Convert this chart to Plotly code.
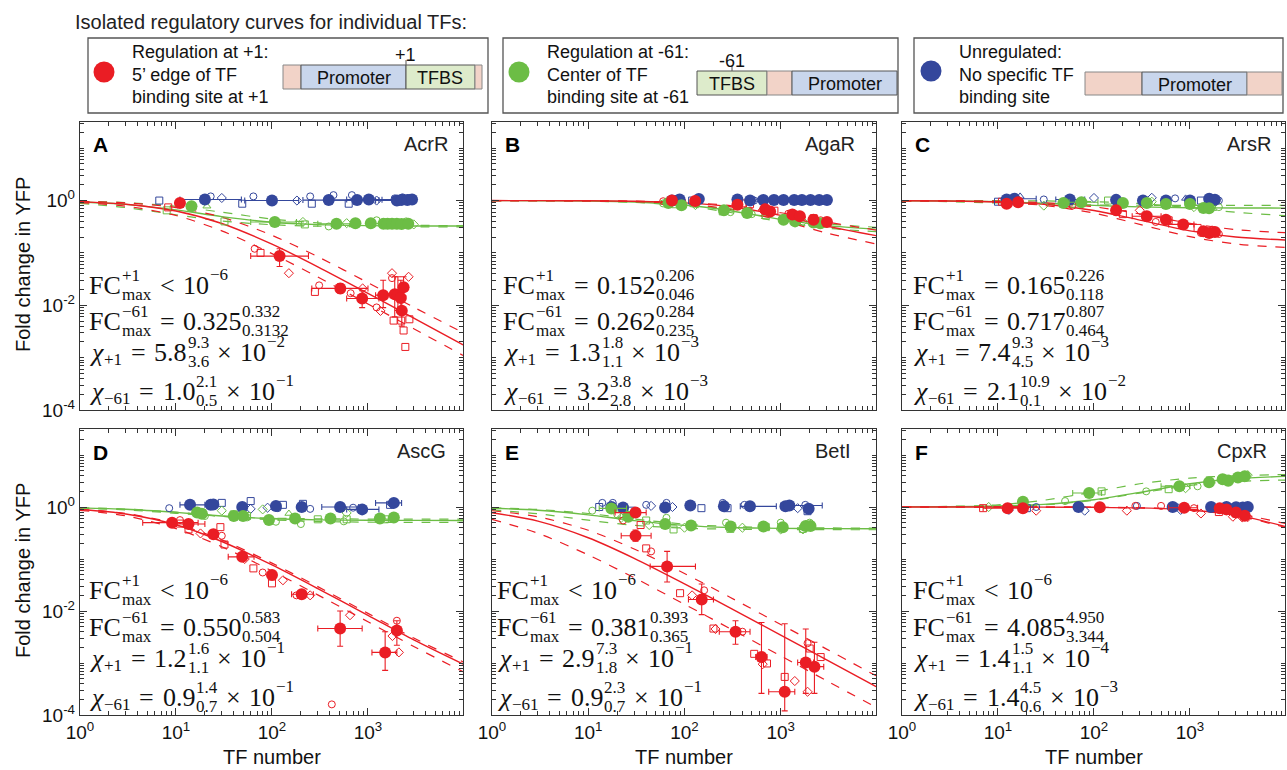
import plotly.graph_objects as go

W, H = 1287, 770
RED, GREEN, BLUE = "#EA1D24", "#6CBD45", "#34479C"
PINK, LBLUE, LGREEN = "#F2D3C8", "#C9D6EC", "#DDEBCB"
SANS = "Liberation Sans, Arial, sans-serif"
SERIF = "Liberation Serif, Times New Roman, serif"

# ---------------- data ----------------
TF_NAMES = ["AcrR", "AgaR", "ArsR", "AscG", "BetI", "CpxR"]
PANEL_LETTERS = ["A", "B", "C", "D", "E", "F"]
X_TICKS = [1, 10, 100, 1000]
X_TICK_TEXT = ["10<sup>0</sup>", "10<sup>1</sup>", "10<sup>2</sup>", "10<sup>3</sup>"]
Y_TICKS = [1e-4, 1e-2, 1]
Y_TICK_TEXT = ["10<sup>-4</sup>", "10<sup>-2</sup>", "10<sup>0</sup>"]

CURVE_X = [1, 3, 10, 30, 100, 300, 1000, 3000, 9800]

# fitted curves (solid) and confidence bounds (dashed), read at CURVE_X
A_RED_FIT = [0.945, 0.852, 0.633, 0.365, 0.147, 0.0543, 0.0169, 0.00571, 0.00176]
A_RED_D1 = [0.965, 0.902, 0.735, 0.481, 0.217, 0.0847, 0.0270, 0.00917, 0.00300]
A_RED_D2 = [0.915, 0.782, 0.518, 0.264, 0.097, 0.0346, 0.0106, 0.00357, 0.00110]
A_GRN_FIT = [0.939, 0.844, 0.663, 0.494, 0.386, 0.347, 0.332, 0.327, 0.326]
A_GRN_D1 = [0.968, 0.913, 0.777, 0.599, 0.443, 0.374, 0.345, 0.336, 0.333]
A_GRN_D2 = [0.881, 0.734, 0.535, 0.407, 0.345, 0.324, 0.317, 0.314, 0.313]

B_RED_FIT = [0.999, 0.997, 0.989, 0.968, 0.902, 0.762, 0.521, 0.325, 0.214]
B_RED_D1 = [0.999, 0.997, 0.991, 0.974, 0.921, 0.803, 0.584, 0.391, 0.273]
B_RED_D2 = [0.998, 0.995, 0.983, 0.954, 0.863, 0.684, 0.420, 0.240, 0.148]
B_GRN_FIT = [0.998, 0.993, 0.977, 0.935, 0.821, 0.639, 0.438, 0.332, 0.285]
B_GRN_D1 = [0.998, 0.994, 0.980, 0.944, 0.843, 0.673, 0.472, 0.360, 0.309]
B_GRN_D2 = [0.997, 0.991, 0.973, 0.922, 0.789, 0.592, 0.394, 0.297, 0.255]

C_RED_FIT = [0.994, 0.982, 0.942, 0.848, 0.645, 0.424, 0.264, 0.201, 0.176]
C_RED_D1 = [0.997, 0.990, 0.967, 0.908, 0.760, 0.555, 0.367, 0.279, 0.243]
C_RED_D2 = [0.992, 0.976, 0.925, 0.808, 0.575, 0.351, 0.204, 0.148, 0.127]
C_GRN_FIT = [0.994, 0.983, 0.951, 0.891, 0.808, 0.756, 0.730, 0.722, 0.718]
C_GRN_D1 = [0.981, 0.952, 0.900, 0.852, 0.824, 0.813, 0.809, 0.808, 0.807]
C_GRN_D2 = [0.999, 0.998, 0.995, 0.984, 0.951, 0.876, 0.732, 0.598, 0.514]

D_RED_FIT = [0.893, 0.735, 0.455, 0.217, 0.0769, 0.0270, 0.00826, 0.00277, 0.00095]
D_RED_D1 = [0.901, 0.752, 0.476, 0.233, 0.0833, 0.0294, 0.00901, 0.00302, 0.00105]
D_RED_D2 = [0.862, 0.676, 0.385, 0.172, 0.0588, 0.0204, 0.00621, 0.00208, 0.00068]
D_GRN_FIT = [0.963, 0.904, 0.787, 0.672, 0.595, 0.566, 0.555, 0.552, 0.550]
D_GRN_D1 = [0.968, 0.914, 0.796, 0.664, 0.611, 0.593, 0.587, 0.584, 0.583]
D_GRN_D2 = [0.949, 0.877, 0.757, 0.663, 0.566, 0.527, 0.511, 0.506, 0.504]

E_RED_FIT = [0.775, 0.535, 0.256, 0.103, 0.0333, 0.0114, 0.00344, 0.00115, 0.000352]
E_RED_D1 = [0.847, 0.649, 0.357, 0.156, 0.0526, 0.0182, 0.00552, 0.00185, 0.000567]
E_RED_D2 = [0.578, 0.313, 0.120, 0.0437, 0.0135, 0.00455, 0.00137, 0.000456, 0.00014]
E_GRN_FIT = [0.949, 0.868, 0.707, 0.548, 0.443, 0.403, 0.388, 0.383, 0.381]
E_GRN_D1 = [0.960, 0.895, 0.750, 0.589, 0.469, 0.421, 0.402, 0.396, 0.393]
E_GRN_D2 = [0.881, 0.741, 0.557, 0.445, 0.392, 0.374, 0.368, 0.366, 0.365]

F_RED_FIT = [1.0, 1.0, 0.999, 0.996, 0.986, 0.960, 0.877, 0.704, 0.422]
F_RED_D1 = [1.0, 1.0, 0.999, 0.997, 0.989, 0.968, 0.901, 0.752, 0.481]
F_RED_D2 = [1.0, 1.0, 0.998, 0.9955, 0.985, 0.957, 0.870, 0.690, 0.405]
F_GRN_FIT = [1.004, 1.013, 1.043, 1.124, 1.38, 1.91, 2.80, 3.49, 3.88]
F_GRN_D1 = [1.01, 1.03, 1.10, 1.35, 1.95, 2.8, 3.6, 4.0, 4.2]
F_GRN_D2 = [1.0, 1.01, 1.03, 1.10, 1.35, 1.85, 2.6, 3.1, 3.3]

# mean data points (filled) with error bounds (xlo, xhi, ylo, yhi)
A_BLU_X = [20, 100, 390, 770, 1020, 2000, 2250, 2570, 2880]
A_BLU_Y = [1.05, 1.0, 1.02, 1.02, 1.05, 1.0, 1.04, 1.02, 1.05]
A_BLU_ERR = [(11, 48, None, None), (52, 190, None, None), (210, 700, None, None), (430, 1300, None, None),
             (600, 1800, None, None), (1200, 3000, None, None), (1400, 3100, None, None), None, None]
A_RED_X = [11, 120, 515, 870, 1440, 1900, 2050, 2200, 2350, 2250]
A_RED_Y = [0.90, 0.087, 0.021, 0.0135, 0.0156, 0.0162, 0.0155, 0.0138, 0.022, 0.0079]
A_RED_ERR = [(10, 12, 0.85, 0.95), (60, 240, 0.055, 0.12), (260, 1000, 0.017, 0.026), (600, 1300, 0.009, 0.019),
             (1200, 1700, 0.009, 0.030), (None, None, 0.006, 0.035), (None, None, 0.008, 0.035),
             (None, None, 0.007, 0.030), (None, None, 0.015, 0.035), (None, None, 0.004, 0.012)]
A_GRN_X = [14.5, 107, 470, 740, 1070, 1450, 1600, 1780, 2000, 2240, 2630]
A_GRN_Y = [0.78, 0.39, 0.36, 0.37, 0.37, 0.36, 0.36, 0.36, 0.36, 0.355, 0.36]
A_GRN_ERR = [None, (60, 180, None, None), (300, 700, None, None), None, None, None, None, None, None, None, None]
A_RED_OPEN = [("o", 66, 0.12), ("o", 310, 0.024), ("o", 660, 0.017), ("o", 1230, 0.0091), ("o", 1780, 0.033),
              ("s", 8.3, 0.74), ("s", 76, 0.10), ("s", 280, 0.018), ("s", 1850, 0.0051), ("s", 2220, 0.0051),
              ("s", 2350, 0.0033), ("s", 2450, 0.0016), ("s", 2700, 0.0054), ("d", 150, 0.041), ("d", 880, 0.021),
              ("d", 1350, 0.0078), ("d", 1780, 0.041), ("d", 2650, 0.035)]
A_GRN_OPEN = [("s", 8, 0.65), ("s", 32, 0.40), ("s", 220, 0.35), ("s", 1900, 0.34), ("t", 21, 0.78),
              ("d", 210, 0.39), ("d", 600, 0.37), ("d", 3000, 0.35), ("o", 390, 0.32), ("o", 1230, 0.42),
              ("o", 2500, 0.40)]
A_BLU_OPEN = [("s", 6.7, 1.0), ("s", 49, 0.87), ("s", 260, 0.87), ("s", 630, 0.87), ("s", 2100, 0.95),
              ("o", 23, 1.2), ("o", 64, 1.2), ("o", 250, 1.2), ("o", 437, 1.27), ("o", 680, 1.27),
              ("o", 1900, 1.1), ("o", 2300, 1.15), ("o", 2700, 1.12), ("d", 30, 1.12), ("d", 182, 1.0),
              ("d", 1230, 1.0)]

B_BLU_X = [74, 89, 141, 355, 480, 660, 850, 1070, 1380, 1660, 2040, 2510, 3020]
B_BLU_Y = [1.0, 1.05, 1.07, 1.05, 1.0, 1.02, 1.02, 1.02, 1.02, 1.02, 1.02, 1.02, 1.02]
B_BLU_ERR = [None] * 13
B_RED_X = [74, 129, 355, 690, 776, 1320, 1580, 2190, 3020]
B_RED_Y = [1.0, 0.98, 0.83, 0.68, 0.62, 0.54, 0.50, 0.43, 0.39]
B_RED_ERR = [None, None, (None, None, 0.78, 0.90), None, None, None, None, None, None]
B_GRN_X = [68, 93, 257, 447, 1070, 1410, 2190, 2570]
B_GRN_Y = [0.90, 0.81, 0.65, 0.58, 0.43, 0.40, 0.38, 0.37]
B_GRN_ERR = [None] * 8
B_RED_OPEN = [("o", 60, 0.97), ("o", 95, 0.95), ("s", 400, 0.88), ("s", 480, 0.85), ("s", 860, 0.64),
              ("s", 1500, 0.53), ("s", 2200, 0.46), ("o", 1200, 0.56), ("d", 650, 0.66), ("o", 2600, 0.42)]
B_GRN_OPEN = [("o", 60, 0.88), ("s", 80, 0.85), ("d", 130, 0.82), ("s", 250, 0.62), ("o", 300, 0.60),
              ("s", 700, 0.52), ("d", 1700, 0.40), ("o", 500, 0.55), ("s", 2800, 0.36)]
B_BLU_OPEN = [("o", 82, 1.08), ("d", 140, 1.1), ("s", 120, 1.0), ("t", 600, 1.05), ("t", 1100, 1.05),
              ("o", 530, 1.0), ("d", 900, 1.05)]

C_BLU_X = [12.3, 14.8, 56, 170, 324, 562, 1000, 1585, 1820]
C_BLU_Y = [1.05, 1.08, 1.05, 1.03, 1.0, 1.0, 1.0, 1.08, 1.04]
C_BLU_ERR = [None, (12, 25, None, None), (40, 80, None, None), None, None, None, None, None, None]
C_RED_X = [12.3, 16.2, 170, 355, 562, 850, 1380, 1585, 1820]
C_RED_Y = [0.87, 0.93, 0.65, 0.50, 0.43, 0.35, 0.26, 0.24, 0.25]
C_RED_ERR = [None, None, None, (250, 500, None, None), None, (600, 1100, 0.30, 0.40), None, None, None]
C_GRN_X = [48, 74, 200, 355, 562, 1000, 1380, 1580]
C_GRN_Y = [0.90, 0.93, 0.90, 0.90, 0.86, 0.86, 0.72, 0.71]
C_GRN_ERR = [None, (55, 110, None, None), None, None, None, None, None, None]
C_RED_OPEN = [("o", 13, 0.85), ("s", 11, 0.95), ("o", 60, 0.8), ("d", 300, 0.65), ("s", 200, 0.55),
              ("s", 600, 0.42), ("o", 440, 0.39), ("s", 1200, 0.30), ("o", 1300, 0.24), ("d", 1700, 0.27),
              ("o", 2000, 0.23)]
C_GRN_OPEN = [("d", 30, 0.80), ("o", 60, 0.85), ("s", 140, 1.0), ("d", 400, 0.95), ("s", 1400, 0.70),
              ("d", 1100, 0.75), ("o", 2000, 0.75)]
C_BLU_OPEN = [("s", 10, 0.95), ("t", 17, 1.2), ("o", 30, 1.05), ("d", 100, 1.12), ("d", 400, 1.13),
              ("o", 700, 1.1), ("s", 1300, 1.0), ("o", 2000, 1.0), ("t", 900, 1.1)]

D_BLU_X = [14, 23, 24.5, 49, 110, 204, 513, 870, 1860]
D_BLU_Y = [1.10, 1.10, 1.12, 1.0, 1.04, 1.0, 1.0, 0.90, 1.2]
D_BLU_ERR = [(11, 20, None, None), None, None, None, None, None, (330, 800, None, None),
             (600, 1300, None, None), (1200, 2240, None, None)]
D_RED_X = [9.1, 13.5, 24.5, 49, 100, 204, 513, 1510, 2000]
D_RED_Y = [0.50, 0.47, 0.30, 0.11, 0.049, 0.021, 0.0046, 0.0016, 0.0042]
D_RED_ERR = [(4.5, 17, None, None), (9, 20, None, None), None, (35, 65, None, None), None,
             (160, 270, None, None), (300, 870, 0.0021, 0.010), (1100, 2000, 0.00072, 0.0040),
             (None, None, 0.0022, 0.0065)]
D_GRN_X = [16.6, 18.6, 40, 50, 93, 174, 407, 1330, 1860]
D_GRN_Y = [0.78, 0.74, 0.67, 0.67, 0.56, 0.60, 0.60, 0.60, 0.63]
D_GRN_ERR = [None] * 9
D_RED_OPEN = [("s", 11, 0.48), ("s", 13.5, 0.37), ("s", 29, 0.41), ("s", 32, 0.19), ("s", 64, 0.066),
              ("s", 100, 0.034), ("o", 11, 0.56), ("o", 30, 0.28), ("o", 80, 0.055), ("o", 180, 0.020),
              ("o", 2000, 0.0065), ("o", 420, 0.00016), ("d", 18, 0.31), ("d", 52, 0.10), ("d", 130, 0.039),
              ("d", 250, 0.020), ("d", 650, 0.0083), ("d", 1800, 0.0033), ("d", 2100, 0.0016)]
D_GRN_OPEN = [("o", 20, 0.67), ("o", 55, 0.63), ("o", 110, 0.52), ("o", 200, 0.47), ("o", 560, 0.53),
              ("s", 40, 0.72), ("s", 55, 0.67), ("s", 300, 0.58), ("s", 600, 0.58), ("s", 1500, 0.58),
              ("d", 30, 0.85), ("d", 80, 0.9), ("d", 600, 0.77), ("t", 150, 0.75)]
D_BLU_OPEN = [("s", 30, 1.2), ("s", 60, 1.3), ("s", 130, 1.1), ("s", 210, 1.15), ("s", 1700, 1.1),
              ("o", 8.5, 0.95), ("o", 115, 0.95), ("o", 250, 0.92), ("o", 700, 0.97), ("d", 60, 0.92),
              ("d", 90, 0.97), ("d", 1750, 1.15)]

E_BLU_X = [17.4, 23, 63, 115, 257, 479, 1120, 1230, 1950]
E_BLU_Y = [1.0, 0.98, 0.98, 1.07, 1.03, 1.03, 1.03, 1.07, 0.93]
E_BLU_ERR = [None, None, None, None, None, (380, 900, None, None), None, (1000, 2700, None, None), None]
E_RED_X = [31, 31, 66, 151, 339, 631, 1100, 1820, 2240]
E_RED_Y = [0.78, 0.28, 0.072, 0.0166, 0.0040, 0.0013, 0.00028, 0.00102, 0.00085]
E_RED_ERR = [(19, 40, None, None), (22, 45, 0.22, 0.36), (44, 130, 0.036, 0.14), (110, 200, 0.0085, 0.033),
             (230, 480, 0.0023, 0.0065), (550, 720, 0.00026, 0.0060), (750, 1400, 0.00012, 0.0057),
             (1500, 2200, 0.00026, 0.0045), (1800, 2800, 0.00026, 0.0025)]
E_GRN_X = [17.4, 26, 63, 117, 302, 661, 1050, 1820, 2040]
E_GRN_Y = [0.94, 0.65, 0.47, 0.44, 0.42, 0.42, 0.41, 0.43, 0.43]
E_GRN_ERR = [(13, 25, None, None), None, None, None, None, None, None, None, None]
E_RED_OPEN = [("o", 23, 0.55), ("o", 45, 0.14), ("o", 160, 0.025), ("o", 400, 0.0040), ("o", 1900, 0.0024),
              ("s", 35, 0.45), ("s", 40, 0.16), ("s", 90, 0.022), ("s", 200, 0.0046), ("s", 530, 0.0015),
              ("s", 720, 0.00098), ("s", 1100, 0.00054), ("s", 2000, 0.0019), ("s", 2600, 0.0013),
              ("d", 120, 0.020), ("d", 210, 0.0045), ("d", 650, 0.00095), ("d", 1400, 0.00045),
              ("d", 1900, 0.00028)]
E_GRN_OPEN = [("o", 11, 0.85), ("o", 20, 0.72), ("o", 65, 0.62), ("o", 270, 0.5), ("o", 1000, 0.5),
              ("o", 2000, 0.5), ("s", 40, 0.55), ("s", 77, 0.37), ("s", 300, 0.38), ("s", 700, 0.41),
              ("s", 1700, 0.38), ("d", 22, 0.62), ("d", 43, 0.45), ("d", 100, 0.4), ("d", 400, 0.40),
              ("d", 1000, 0.37), ("d", 1700, 0.37)]
E_BLU_OPEN = [("o", 14, 1.2), ("o", 18, 1.2), ("o", 40, 1.1), ("o", 65, 1.2), ("o", 250, 1.2), ("o", 420, 1.1),
              ("o", 1800, 1.1), ("s", 13, 1.0), ("s", 28, 0.85), ("s", 150, 0.95), ("s", 280, 0.95),
              ("s", 1900, 0.83), ("d", 45, 1.05), ("d", 75, 1.0), ("d", 1500, 0.95)]

F_BLU_X = [69, 661, 1660, 2400, 3020, 3550, 4000]
F_BLU_Y = [1.0, 1.0, 1.0, 1.0, 0.99, 0.98, 1.0]
F_BLU_ERR = [None] * 7
F_RED_X = [12.6, 18.2, 115, 870, 2040, 2400, 3020, 3720]
F_RED_Y = [0.95, 0.95, 0.99, 0.97, 0.95, 0.90, 0.78, 0.68]
F_RED_ERR = [(7, 18, None, None), None, None, (600, 1200, None, None), None, None, None, None]
F_GRN_X = [18.2, 89, 776, 1580, 2190, 2500, 3160, 3720]
F_GRN_Y = [1.26, 1.86, 2.51, 3.0, 3.4, 3.2, 3.7, 3.9]
F_GRN_ERR = [None, (60, 120, None, None), (500, 1000, None, None), None, None, None, None, None]
F_RED_OPEN = [("s", 7, 0.95), ("s", 2000, 0.8), ("s", 3000, 0.75), ("o", 270, 1.05), ("o", 500, 1.05),
              ("o", 1100, 0.95), ("o", 2300, 0.85), ("d", 25, 0.85), ("d", 220, 0.85), ("d", 1300, 0.75),
              ("d", 2800, 0.65), ("d", 3500, 0.63), ("d", 4000, 0.64)]
F_GRN_OPEN = [("o", 50, 1.3), ("o", 350, 2.0), ("o", 1200, 2.5), ("o", 3500, 4.0), ("o", 2200, 3.3),
              ("s", 120, 2.0), ("s", 600, 2.2), ("s", 2400, 3.5), ("d", 900, 2.3), ("d", 4000, 4.1),
              ("d", 8, 1.0)]
F_BLU_OPEN = [("o", 25, 1.0), ("o", 280, 1.05), ("o", 720, 1.0), ("o", 2600, 1.0), ("d", 13, 0.88),
              ("d", 80, 0.85), ("d", 800, 0.88), ("s", 4000, 1.0), ("s", 3000, 0.95), ("s", 20, 0.95)]

# fit parameter texts
FC_P1 = [None, ("0.152", "0.206", "0.046"), ("0.165", "0.226", "0.118"), None, None, None]
FC_M61 = [("0.325", "0.332", "0.3132"), ("0.262", "0.284", "0.235"), ("0.717", "0.807", "0.464"),
          ("0.550", "0.583", "0.504"), ("0.381", "0.393", "0.365"), ("4.085", "4.950", "3.344")]
CHI_P1 = [("5.8", "9.3", "3.6", "−2"), ("1.3", "1.8", "1.1", "−3"), ("7.4", "9.3", "4.5", "−3"),
          ("1.2", "1.6", "1.1", "−1"), ("2.9", "7.3", "1.8", "−1"), ("1.4", "1.5", "1.1", "−4")]
CHI_M61 = [("1.0", "2.1", "0.5", "−1"), ("3.2", "3.8", "2.8", "−3"), ("2.1", "10.9", "0.1", "−2"),
           ("0.9", "1.4", "0.7", "−1"), ("0.9", "2.3", "0.7", "−1"), ("1.4", "4.5", "0.6", "−3")]

PANELS = [
    (A_RED_FIT, A_RED_D1, A_RED_D2, A_GRN_FIT, A_GRN_D1, A_GRN_D2,
     (A_BLU_X, A_BLU_Y, A_BLU_ERR, A_BLU_OPEN), (A_GRN_X, A_GRN_Y, A_GRN_ERR, A_GRN_OPEN),
     (A_RED_X, A_RED_Y, A_RED_ERR, A_RED_OPEN)),
    (B_RED_FIT, B_RED_D1, B_RED_D2, B_GRN_FIT, B_GRN_D1, B_GRN_D2,
     (B_BLU_X, B_BLU_Y, B_BLU_ERR, B_BLU_OPEN), (B_GRN_X, B_GRN_Y, B_GRN_ERR, B_GRN_OPEN),
     (B_RED_X, B_RED_Y, B_RED_ERR, B_RED_OPEN)),
    (C_RED_FIT, C_RED_D1, C_RED_D2, C_GRN_FIT, C_GRN_D1, C_GRN_D2,
     (C_BLU_X, C_BLU_Y, C_BLU_ERR, C_BLU_OPEN), (C_GRN_X, C_GRN_Y, C_GRN_ERR, C_GRN_OPEN),
     (C_RED_X, C_RED_Y, C_RED_ERR, C_RED_OPEN)),
    (D_RED_FIT, D_RED_D1, D_RED_D2, D_GRN_FIT, D_GRN_D1, D_GRN_D2,
     (D_BLU_X, D_BLU_Y, D_BLU_ERR, D_BLU_OPEN), (D_GRN_X, D_GRN_Y, D_GRN_ERR, D_GRN_OPEN),
     (D_RED_X, D_RED_Y, D_RED_ERR, D_RED_OPEN)),
    (E_RED_FIT, E_RED_D1, E_RED_D2, E_GRN_FIT, E_GRN_D1, E_GRN_D2,
     (E_BLU_X, E_BLU_Y, E_BLU_ERR, E_BLU_OPEN), (E_GRN_X, E_GRN_Y, E_GRN_ERR, E_GRN_OPEN),
     (E_RED_X, E_RED_Y, E_RED_ERR, E_RED_OPEN)),
    (F_RED_FIT, F_RED_D1, F_RED_D2, F_GRN_FIT, F_GRN_D1, F_GRN_D2,
     (F_BLU_X, F_BLU_Y, F_BLU_ERR, F_BLU_OPEN), (F_GRN_X, F_GRN_Y, F_GRN_ERR, F_GRN_OPEN),
     (F_RED_X, F_RED_Y, F_RED_ERR, F_RED_OPEN)),
]

# ---------------- layout geometry (pixels) ----------------
X_DOM_PX = [(80, 463), (492, 876), (902, 1285)]
Y_DOM_PX = [(122, 410), (429, 715)]
TEXT_X0 = [8, 10, 10, 8, 4, 10]
NAME_DX = [-13, -19, -12, -15, -23, -16]
LINE_FRAC = [0.434, 0.306, 0.198, 0.0625]

SYM = {"o": "circle-open", "s": "square-open", "d": "diamond-open", "t": "triangle-up-open"}


def err_arrays(vals, errs, k):
    plus, minus = [], []
    for v, e in zip(vals, errs):
        lo, hi = (e[2 * k], e[2 * k + 1]) if e else (None, None)
        plus.append(max(0, hi - v) if hi is not None else 0)
        minus.append(max(0, v - lo) if lo is not None else 0)
    return plus, minus


fig = go.Figure()
layout = {}
annotations = []
shapes = []

MINOR_X = [m * 10 ** k for k in range(0, 4) for m in range(2, 10)]
MINOR_Y = [m * 10.0 ** k for k in range(-4, 2) for m in range(2, 10)] + [1e-3, 1e-1, 10]

for i, panel in enumerate(PANELS):
    r, c = divmod(i, 3)
    n = i + 1
    xs = "x" if n == 1 else f"x{n}"
    ys = "y" if n == 1 else f"y{n}"
    xk = "xaxis" if n == 1 else f"xaxis{n}"
    yk = "yaxis" if n == 1 else f"yaxis{n}"
    x0, x1 = X_DOM_PX[c]
    yt, yb = Y_DOM_PX[r]
    axcommon = dict(type="log", showline=True, linecolor="#333", linewidth=1.4, mirror="ticks",
                    ticks="inside", ticklen=7, tickwidth=1.1, tickcolor="#333", showgrid=False,
                    zeroline=False, automargin=False, tickfont=dict(family=SANS, size=19, color="#111"),
                    minor=dict(ticks="inside", ticklen=3.5, tickwidth=0.8, tickcolor="#333", showgrid=False))
    xa = dict(axcommon)
    xa.update(range=[0, 3.99], domain=[x0 / W, x1 / W], anchor=ys, tickmode="array",
              tickvals=X_TICKS, ticktext=X_TICK_TEXT, showticklabels=(r == 1))
    xa["minor"] = dict(axcommon["minor"], tickmode="array", tickvals=MINOR_X)
    ya = dict(axcommon)
    ya.update(range=[-4, 1.5], domain=[1 - yb / H, 1 - yt / H], anchor=xs, tickmode="array",
              tickvals=Y_TICKS, ticktext=Y_TICK_TEXT, showticklabels=(c == 0))
    ya["minor"] = dict(axcommon["minor"], tickmode="array", tickvals=MINOR_Y)
    layout[xk] = xa
    layout[yk] = ya

    red_fit, red_d1, red_d2, grn_fit, grn_d1, grn_d2, blu, grn, red = panel
    for yv, col, dash, wd in [(grn_d1, GREEN, "dash", 1.2), (grn_d2, GREEN, "dash", 1.2),
                              (grn_fit, GREEN, "solid", 1.4), (red_d1, RED, "dash", 1.2),
                              (red_d2, RED, "dash", 1.2), (red_fit, RED, "solid", 1.4)]:
        fig.add_trace(go.Scatter(x=CURVE_X, y=yv, mode="lines", xaxis=xs, yaxis=ys, showlegend=False,
                                 hoverinfo="skip",
                                 line=dict(color=col, width=wd, dash=dash, shape="spline", smoothing=0.8)))
    # open markers
    for (px_, py_, pe, popen), col in [(blu, BLUE), (grn, GREEN), (red, RED)]:
        for key in ["o", "s", "d", "t"]:
            pts = [(p[1], p[2]) for p in popen if p[0] == key]
            if not pts:
                continue
            fig.add_trace(go.Scatter(x=[p[0] for p in pts], y=[p[1] for p in pts], mode="markers",
                                     xaxis=xs, yaxis=ys, showlegend=False,
                                     marker=dict(symbol=SYM[key], size=7, color=col, line=dict(width=1, color=col))))
    # filled markers
    for (px_, py_, pe, popen), col in [(blu, BLUE), (grn, GREEN), (red, RED)]:
        exp_, exm = err_arrays(px_, pe, 0)
        eyp, eym = err_arrays(py_, pe, 1)
        fig.add_trace(go.Scatter(
            x=px_, y=py_, mode="markers", xaxis=xs, yaxis=ys, showlegend=False,
            marker=dict(symbol="circle", size=12, color=col, line=dict(width=0)),
            error_x=dict(type="data", symmetric=False, array=exp_, arrayminus=exm, color=col,
                         thickness=1.1, width=3),
            error_y=dict(type="data", symmetric=False, array=eyp, arrayminus=eym, color=col,
                         thickness=1.1, width=3)))

    # panel letter and TF name
    annotations.append(dict(xref=f"{xs} domain", yref=f"{ys} domain", x=0, y=1, xanchor="left",
                            yanchor="middle", xshift=11, yshift=-23, showarrow=False,
                            text=f"<b>{PANEL_LETTERS[i]}</b>", font=dict(family=SANS, size=21, color="#000")))
    annotations.append(dict(xref=f"{xs} domain", yref=f"{ys} domain", x=1, y=1, xanchor="right",
                            yanchor="middle", xshift=NAME_DX[i], yshift=-22, showarrow=False,
                            text=TF_NAMES[i], font=dict(family=SANS, size=20, color="#222")))

# ---------------- math text ----------------
S_MAIN, S_SCR = 26, 17
GAP = 8.5
WID = {".": 0.25, "+": 0.564, "−": 0.564, "=": 0.564, "<": 0.564, "×": 0.564, "F": 0.556, "C": 0.667,
       "m": 0.778, "a": 0.444, "x": 0.5, "χ": 0.55}


def tw(s, size):
    return sum(WID.get(ch, 0.5) for ch in s) * size


def add_txt(i, yfrac, text, xpx, ypx, size):
    n = i + 1
    xs = "x" if n == 1 else f"x{n}"
    ys = "y" if n == 1 else f"y{n}"
    annotations.append(dict(xref=f"{xs} domain", yref=f"{ys} domain", x=0, y=yfrac, xanchor="left",
                            yanchor="middle", xshift=xpx, yshift=ypx, showarrow=False, text=text,
                            borderpad=0, font=dict(family=SERIF, size=size, color="#111")))


def math_line(i, yfrac, tokens):
    cur = TEXT_X0[i]
    for tok in tokens:
        k = tok[0]
        if k == "g":
            cur += GAP
        elif k == "t":
            add_txt(i, yfrac, tok[1], cur, 0, S_MAIN)
            cur += tw(tok[1], S_MAIN)
        elif k == "chi":
            add_txt(i, yfrac, "<i>χ</i>", cur, 0, S_MAIN)
            cur += tw("χ", S_MAIN)
        elif k == "sup":
            add_txt(i, yfrac, tok[1], cur + 1, 11, S_SCR)
            cur += tw(tok[1], S_SCR) + 1
        elif k == "sub":
            add_txt(i, yfrac, tok[1], cur + 1, -7, S_SCR)
            cur += tw(tok[1], S_SCR) + 1
        elif k == "ss":
            add_txt(i, yfrac, tok[1], cur + 1, 10, S_SCR)
            add_txt(i, yfrac, tok[2], cur + 1, -9, S_SCR)
            cur += max(tw(tok[1], S_SCR), tw(tok[2], S_SCR)) + 1


for i in range(6):
    if FC_P1[i] is None:
        l1 = [("t", "FC"), ("ss", "+1", "max"), ("g",), ("t", "<"), ("g",), ("t", "10"), ("sup", "−6")]
    else:
        v, hi, lo = FC_P1[i]
        l1 = [("t", "FC"), ("ss", "+1", "max"), ("g",), ("t", "="), ("g",), ("t", v), ("ss", hi, lo)]
    v, hi, lo = FC_M61[i]
    l2 = [("t", "FC"), ("ss", "−61", "max"), ("g",), ("t", "="), ("g",), ("t", v), ("ss", hi, lo)]
    v, hi, lo, ex = CHI_P1[i]
    l3 = [("chi",), ("sub", "+1"), ("g",), ("t", "="), ("g",), ("t", v), ("ss", hi, lo), ("g",),
          ("t", "×"), ("g",), ("t", "10"), ("sup", ex)]
    v, hi, lo, ex = CHI_M61[i]
    l4 = [("chi",), ("sub", "−61"), ("g",), ("t", "="), ("g",), ("t", v), ("ss", hi, lo), ("g",),
          ("t", "×"), ("g",), ("t", "10"), ("sup", ex)]
    for yf, line in zip(LINE_FRAC, [l1, l2, l3, l4]):
        math_line(i, yf, line)

# ---------------- axis titles ----------------
for yc in [265, 571]:
    annotations.append(dict(xref="paper", yref="paper", x=23 / W, y=1 - yc / H, xanchor="center",
                            yanchor="middle", textangle=-90, showarrow=False, text="Fold change in YFP",
                            font=dict(family=SANS, size=20, color="#111")))
for (x0, x1) in X_DOM_PX:
    annotations.append(dict(xref="paper", yref="paper", x=(x0 + x1) / 2 / W, y=1 - 757 / H,
                            xanchor="center", yanchor="middle", showarrow=False, text="TF number",
                            font=dict(family=SANS, size=20, color="#111")))


# ---------------- header / legend boxes ----------------
def ptx(x):
    return x / W


def pty(y):
    return 1 - y / H


annotations.append(dict(xref="paper", yref="paper", x=ptx(73), y=pty(22), xanchor="left", yanchor="middle",
                        showarrow=False, text="Isolated regulatory curves for individual TFs:",
                        font=dict(family=SANS, size=20, color="#222")))


def rect(x0, y0, x1, y1, fill=None, lc="#444", lw=1.0):
    shapes.append(dict(type="rect", xref="paper", yref="paper", x0=ptx(x0), x1=ptx(x1), y0=pty(y1),
                       y1=pty(y0), fillcolor=fill if fill else "rgba(0,0,0,0)",
                       line=dict(color=lc, width=lw), layer="above"))


def dot(cx, cy, rr, col):
    shapes.append(dict(type="circle", xref="paper", yref="paper", x0=ptx(cx - rr), x1=ptx(cx + rr),
                       y0=pty(cy + rr), y1=pty(cy - rr), fillcolor=col, line=dict(width=0)))


def label(x, y, text, size=18, anchor="left"):
    annotations.append(dict(xref="paper", yref="paper", x=ptx(x), y=pty(y), xanchor=anchor, yanchor="middle",
                            showarrow=False, text=text, font=dict(family=SANS, size=size, color="#111")))


def vline(x, y0, y1):
    shapes.append(dict(type="line", xref="paper", yref="paper", x0=ptx(x), x1=ptx(x), y0=pty(y0), y1=pty(y1),
                       line=dict(color="#555", width=1)))


BOX_TEXT = [
    ["Regulation at +1:", "5’ edge of TF", "binding site at +1"],
    ["Regulation at -61:", "Center of TF", "binding site at -61"],
    ["Unregulated:", "No specific TF", "binding site"],
]

# box 1
rect(88, 38, 488, 113, lc="#555", lw=1.3)
dot(104, 72, 10.5, RED)
for k, t in enumerate(BOX_TEXT[0]):
    label(130, 52 + 22.5 * k, t)
rect(283, 65, 301, 89, fill=PINK, lc="#888")
rect(301, 65, 406, 89, fill=LBLUE, lc="#555")
rect(406, 65, 475, 89, fill=LGREEN, lc="#555")
rect(475, 65, 482, 89, fill=PINK, lc="#888")
label(353.5, 78, "Promoter", anchor="center")
label(440.5, 78, "TFBS", anchor="center")
label(405, 55, "+1", anchor="center")
vline(406, 60, 65)

# box 2
rect(503, 38, 898, 113, lc="#555", lw=1.3)
dot(519, 72, 10.5, GREEN)
for k, t in enumerate(BOX_TEXT[1]):
    label(545, 52 + 22.5 * k, t)
rect(697, 71, 767, 95, fill=LGREEN, lc="#555")
rect(767, 71, 792, 95, fill=PINK, lc="#888")
rect(792, 71, 897, 95, fill=LBLUE, lc="#555")
label(732, 84, "TFBS", anchor="center")
label(844.5, 84, "Promoter", anchor="center")
label(732, 61, "-61", anchor="center")
vline(732, 66, 71)

# box 3
rect(914, 38, 1283, 113, lc="#555", lw=1.3)
dot(931, 71, 10.5, BLUE)
for k, t in enumerate(BOX_TEXT[2]):
    label(957, 52 + 22.5 * k, t)
rect(1085, 72, 1142, 95, fill=PINK, lc="#888")
rect(1142, 72, 1247, 95, fill=LBLUE, lc="#555")
rect(1247, 72, 1282, 95, fill=PINK, lc="#888")
label(1194.5, 85, "Promoter", anchor="center")

layout.update(width=W, height=H, margin=dict(l=0, r=0, t=0, b=0, autoexpand=False), paper_bgcolor="white",
              plot_bgcolor="white", showlegend=False, annotations=annotations, shapes=shapes)
fig.update_layout(**layout)
fig.write_html("out.html", config={"displayModeBar": False},
               post_script="document.body.style.margin='0';document.body.style.overflow='hidden';")
